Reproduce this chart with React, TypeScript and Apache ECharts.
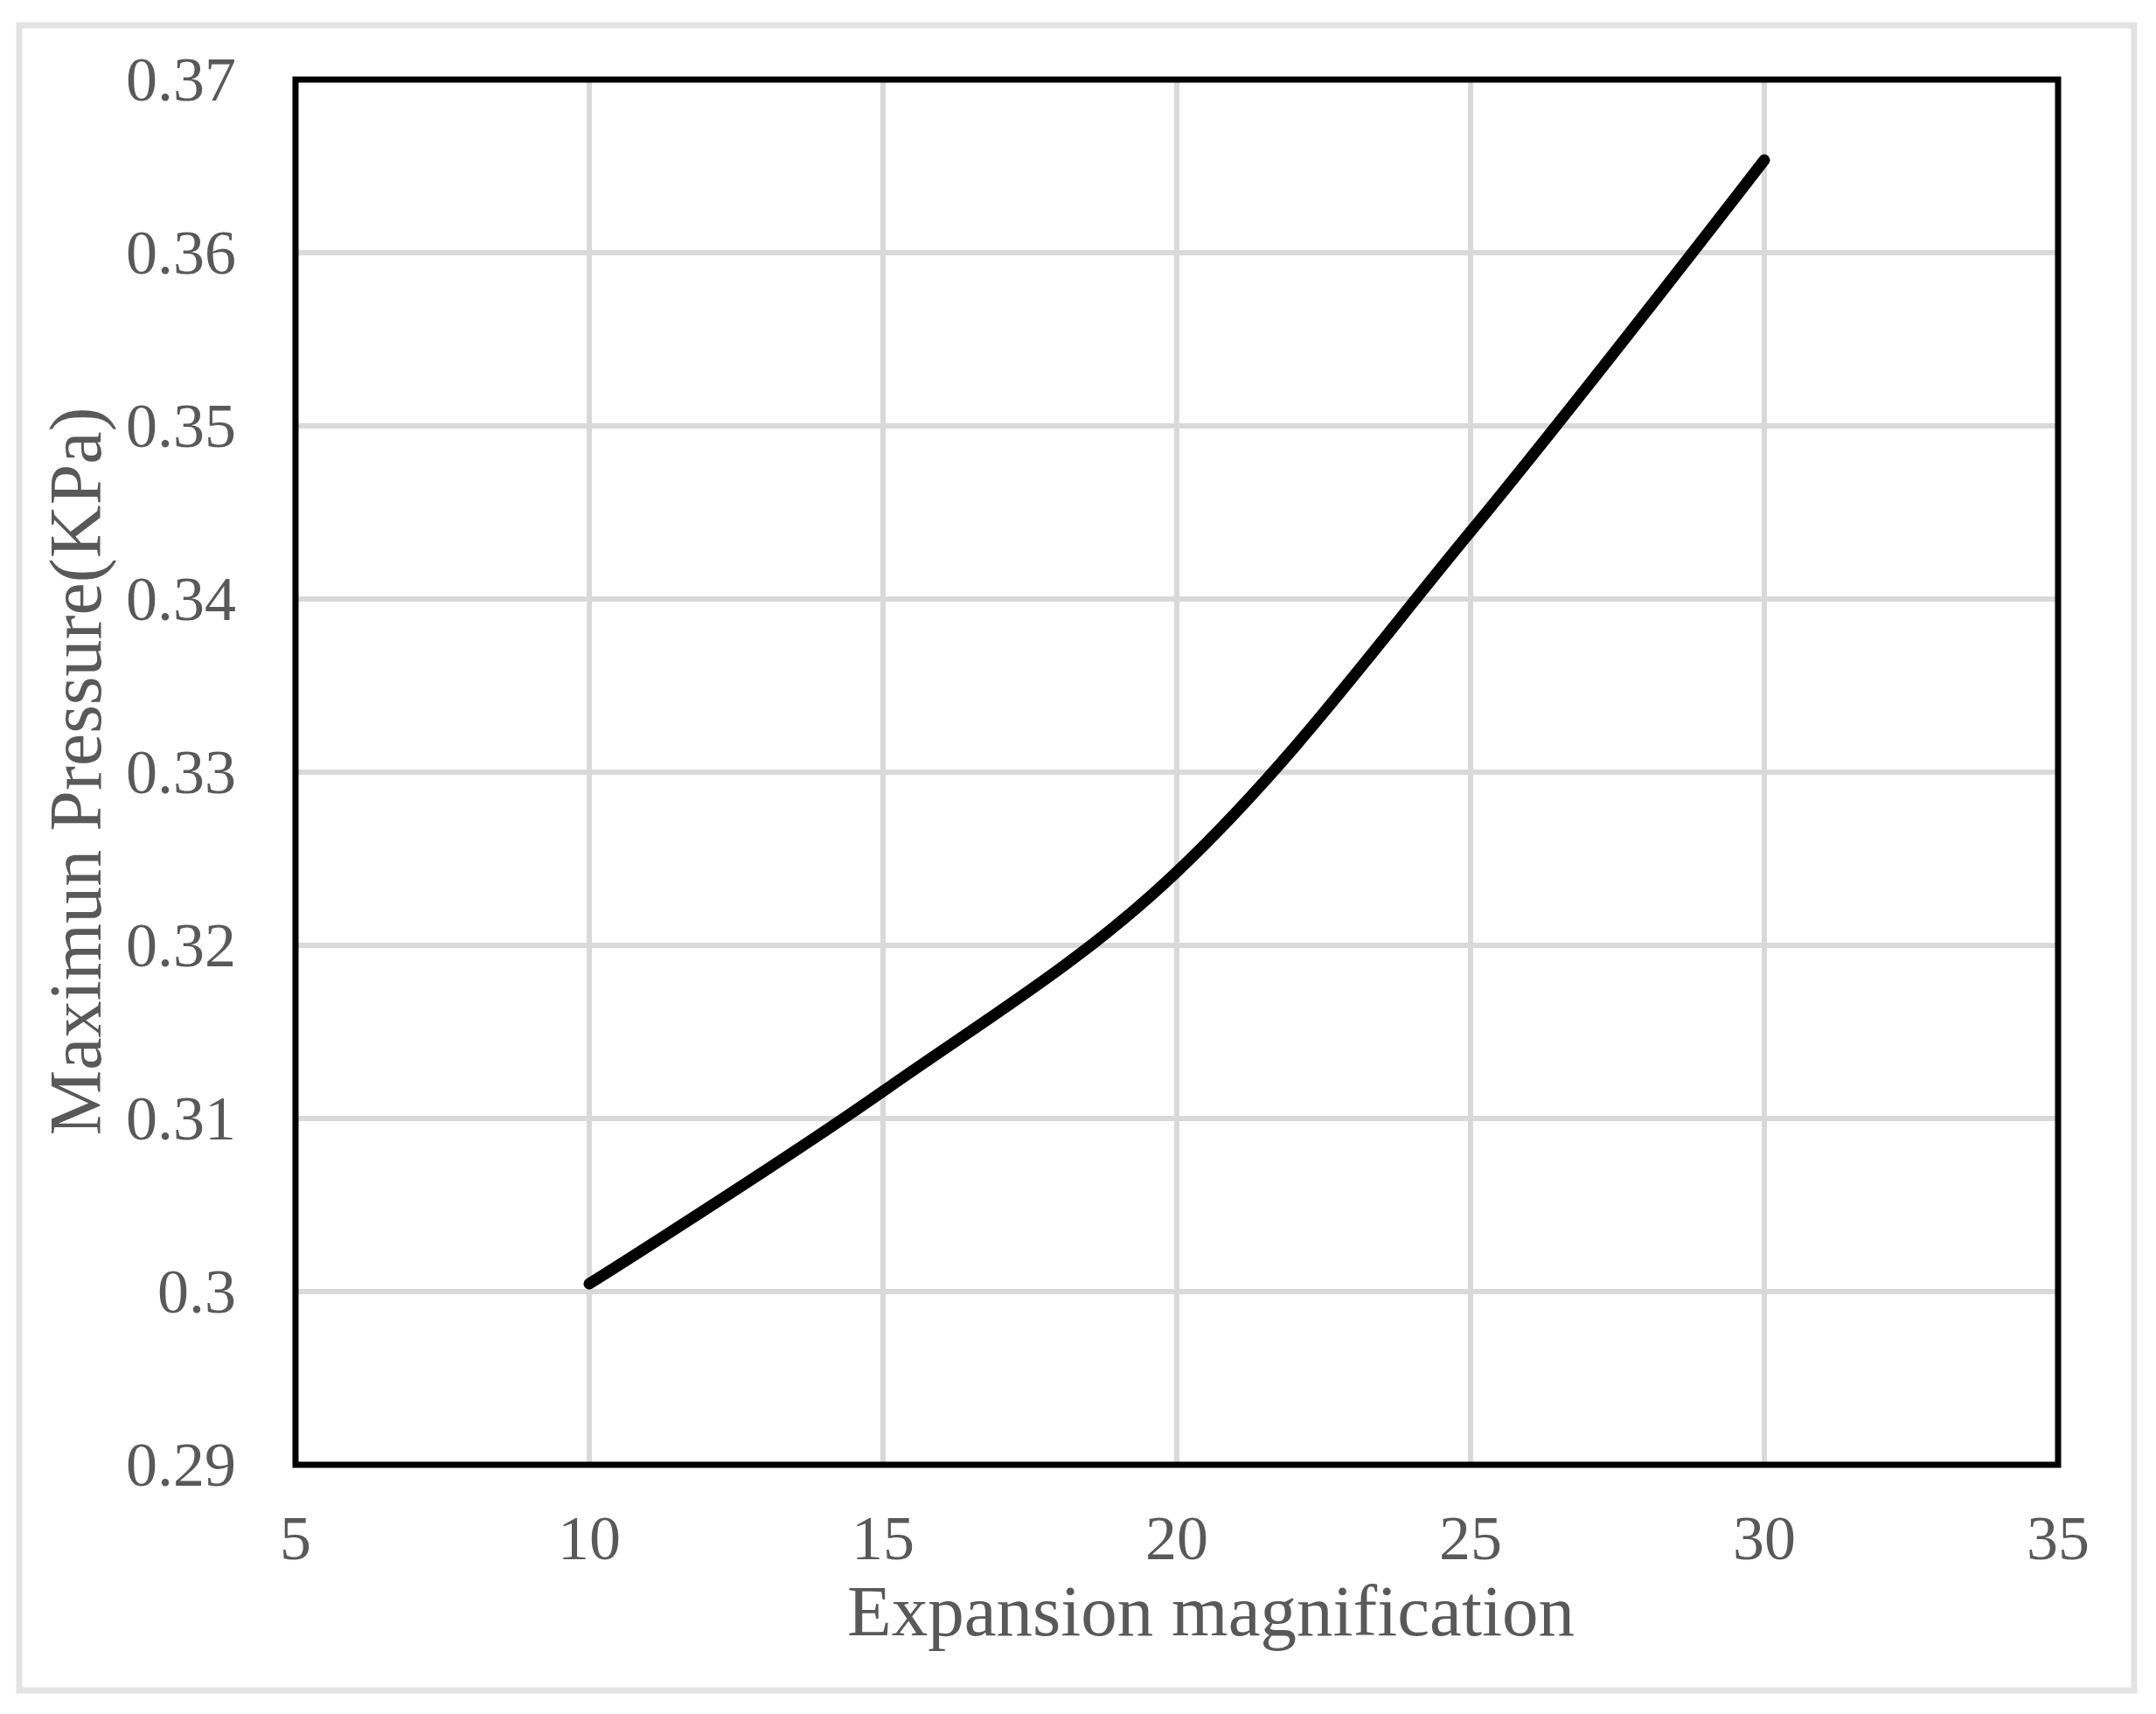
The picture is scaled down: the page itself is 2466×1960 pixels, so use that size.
import React, { useEffect, useRef } from "react";
import * as echarts from "echarts";

const xValues = [10, 15, 20, 25, 30];
const pressureValues = [0.30045, 0.31157, 0.32424, 0.34389, 0.36535];
const xTicks = [5, 10, 15, 20, 25, 30, 35];
const yTicks = [0.29, 0.3, 0.31, 0.32, 0.33, 0.34, 0.35, 0.36, 0.37];
const xTitle = "Expansion magnification";
const yTitle = "Maximun Pressure(KPa)";

const FONT = "'Liberation Serif', 'Times New Roman', serif";
const LABEL_COLOR = "#595959";

export default function App() {
  const ref = useRef<HTMLDivElement>(null);

  useEffect(() => {
    document.body.style.margin = "0";
    const chart = echarts.init(ref.current!, undefined, { renderer: "svg" });
    const gridLeft = 338, gridTop = 91, gridW = 2016, gridH = 1584;
    chart.setOption({
      animation: false,
      backgroundColor: "#ffffff",
      grid: { left: gridLeft, top: gridTop, width: gridW, height: gridH, containLabel: false },
      xAxis: {
        type: "value",
        min: xTicks[0],
        max: xTicks[xTicks.length - 1],
        interval: 5,
        axisLine: { show: false },
        axisTick: { show: false },
        axisLabel: { fontFamily: FONT, fontSize: 72, color: LABEL_COLOR, margin: 48 },
        splitLine: { show: true, lineStyle: { color: "#d9d9d9", width: 6 } },
      },
      yAxis: {
        type: "value",
        min: yTicks[0],
        max: yTicks[yTicks.length - 1],
        interval: 0.01,
        axisLine: { show: false },
        axisTick: { show: false },
        axisLabel: { fontFamily: FONT, fontSize: 72, color: LABEL_COLOR, margin: 68 },
        splitLine: { show: true, lineStyle: { color: "#d9d9d9", width: 6 } },
      },
      series: [
        {
          type: "line",
          data: xValues.map((x, i) => [x, pressureValues[i]]),
          smooth: 0.35,
          showSymbol: false,
          symbol: "none",
          lineStyle: { color: "#000000", width: 13, cap: "round", join: "round" },
          z: 5,
        },
      ],
      graphic: [
        {
          type: "rect",
          z: 100,
          shape: { x: 22, y: 29, width: 2419, height: 1904 },
          style: { fill: "none", stroke: "#e3e3e3", lineWidth: 7 },
        },
        {
          type: "rect",
          z: 100,
          shape: { x: gridLeft, y: gridTop, width: gridW, height: gridH },
          style: { fill: "none", stroke: "#000000", lineWidth: 7 },
        },
        {
          type: "text",
          z: 100,
          x: 1385,
          y: 1842,
          style: {
            text: xTitle,
            fontFamily: FONT,
            fontSize: 83,
            fill: LABEL_COLOR,
            textAlign: "center",
            textVerticalAlign: "middle",
          },
        },
        {
          type: "text",
          z: 100,
          x: 86,
          y: 882,
          rotation: Math.PI / 2,
          style: {
            text: yTitle,
            fontFamily: FONT,
            fontSize: 84,
            fill: LABEL_COLOR,
            textAlign: "center",
            textVerticalAlign: "middle",
          },
        },
      ],
    });
    return () => chart.dispose();
  }, []);

  return <div ref={ref} style={{ width: 2466, height: 1960 }} />;
}
